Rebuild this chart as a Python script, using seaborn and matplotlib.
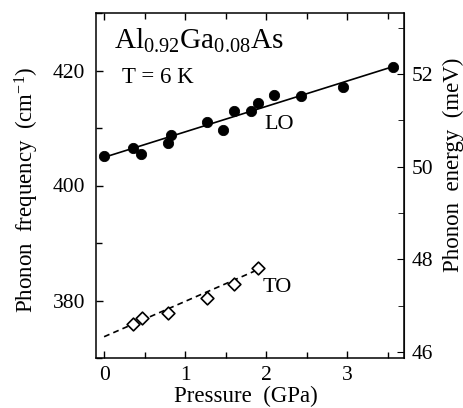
import matplotlib
matplotlib.use("Agg")
import matplotlib.pyplot as plt
import seaborn as sns
import pandas as pd
from matplotlib.ticker import MultipleLocator

sns.set_style("ticks")
plt.rcParams['font.family'] = ['Liberation Serif', 'DejaVu Serif']
plt.rcParams['mathtext.fontset'] = 'custom'
plt.rcParams['mathtext.rm'] = 'Liberation Serif'
plt.rcParams['mathtext.it'] = 'Liberation Serif'
plt.rcParams['text.color'] = 'black'
plt.rcParams['axes.labelcolor'] = 'black'
plt.rcParams['xtick.color'] = 'black'
plt.rcParams['ytick.color'] = 'black'
plt.rcParams['xtick.labelcolor'] = 'black'
plt.rcParams['ytick.labelcolor'] = 'black'

# LO phonon (filled circles)
lo_pressure = [0.0, 0.36, 0.46, 0.79, 0.82, 1.27, 1.47, 1.60, 1.81, 1.90, 2.09, 2.43, 2.95, 3.56]
lo_freq = [405.2, 406.5, 405.4, 407.4, 408.7, 411.0, 409.6, 412.9, 413.0, 414.4, 415.8, 415.5, 417.2, 420.6]
# TO phonon (open diamonds)
to_pressure = [0.36, 0.465, 0.79, 1.27, 1.60, 1.90]
to_freq = [376.0, 376.9, 377.9, 380.4, 382.9, 385.7]
# linear fits
lo_fit_p = [0.0, 3.57]
lo_fit_v = [404.9, 420.7]
to_fit_p = [0.0, 1.92]
to_fit_v = [373.7, 385.5]

CM_TO_MEV = 0.123984

lo = pd.DataFrame({"p": lo_pressure, "v": lo_freq})
to = pd.DataFrame({"p": to_pressure, "v": to_freq})
lof = pd.DataFrame({"p": lo_fit_p, "v": lo_fit_v})
tof = pd.DataFrame({"p": to_fit_p, "v": to_fit_v})

fig = plt.figure(figsize=(4.64, 4.08), dpi=100)
ax = fig.add_axes([96/464, 50/408, 308/464, 345/408])

sns.lineplot(data=lof, x="p", y="v", ax=ax, color="black", lw=1.2)
sns.lineplot(data=tof, x="p", y="v", ax=ax, color="black", lw=1.2, linestyle=(0, (3.5, 2.5)))
sns.scatterplot(data=lo, x="p", y="v", ax=ax, color="black", marker="o", s=55, edgecolor="black", zorder=5)
sns.scatterplot(data=to, x="p", y="v", ax=ax, facecolor="white", marker="D", s=42,
                edgecolor="black", linewidth=1.2, zorder=5)

ax.set_xlim(-0.1, 3.7)
ax.set_ylim(370, 430)
ax.xaxis.set_major_locator(MultipleLocator(1))
ax.xaxis.set_minor_locator(MultipleLocator(0.5))
ax.yaxis.set_major_locator(MultipleLocator(20))
ax.yaxis.set_minor_locator(MultipleLocator(10))
ax.tick_params(which="both", direction="in", top=True, right=False, labelsize=15.5, width=1,
               color="black", labelcolor="black")
ax.tick_params(which="major", length=5)
ax.tick_params(which="minor", length=4)
ax.tick_params(axis="y", pad=8)
ax.tick_params(axis="x", pad=6)
for s in ax.spines.values():
    s.set_linewidth(1.1)
    s.set_color("black")

ax.set_xlabel("Pressure  (GPa)", fontsize=16.5, color="black")
ax.set_ylabel("Phonon  frequency  (cm$^{-1}$)", fontsize=16.5, color="black")
ax.xaxis.set_label_coords(0.485, -0.082)
ax.yaxis.set_label_coords(-0.18, 0.487)

sec = ax.secondary_yaxis("right", functions=(lambda x: x * CM_TO_MEV, lambda x: x / CM_TO_MEV))
sec.yaxis.set_major_locator(MultipleLocator(2))
sec.yaxis.set_minor_locator(MultipleLocator(1))
sec.tick_params(which="both", direction="in", labelsize=15.5, color="black", labelcolor="black", pad=5.5)
sec.tick_params(which="major", length=5)
sec.tick_params(which="minor", length=4)
sec.set_ylabel("Phonon  energy  (meV)", fontsize=16.5, color="black")
sec.yaxis.set_label_coords(1.127, 0.56, transform=ax.transAxes)
sec.xaxis.set_visible(False)
sec.title.set_visible(False)

ax.text(0.12, 423.7, "Al$_{0.92}$Ga$_{0.08}$As", fontsize=21, ha="left", va="baseline", color="black")
ax.text(0.215, 417.8, "T = 6 K", fontsize=16.5, ha="left", va="baseline", color="black")
ax.text(1.974, 409.8, "LO", fontsize=16, ha="left", va="baseline", color="black")
ax.text(1.95, 381.5, "TO", fontsize=16, ha="left", va="baseline", color="black")

fig.savefig("out.png", dpi=100)
